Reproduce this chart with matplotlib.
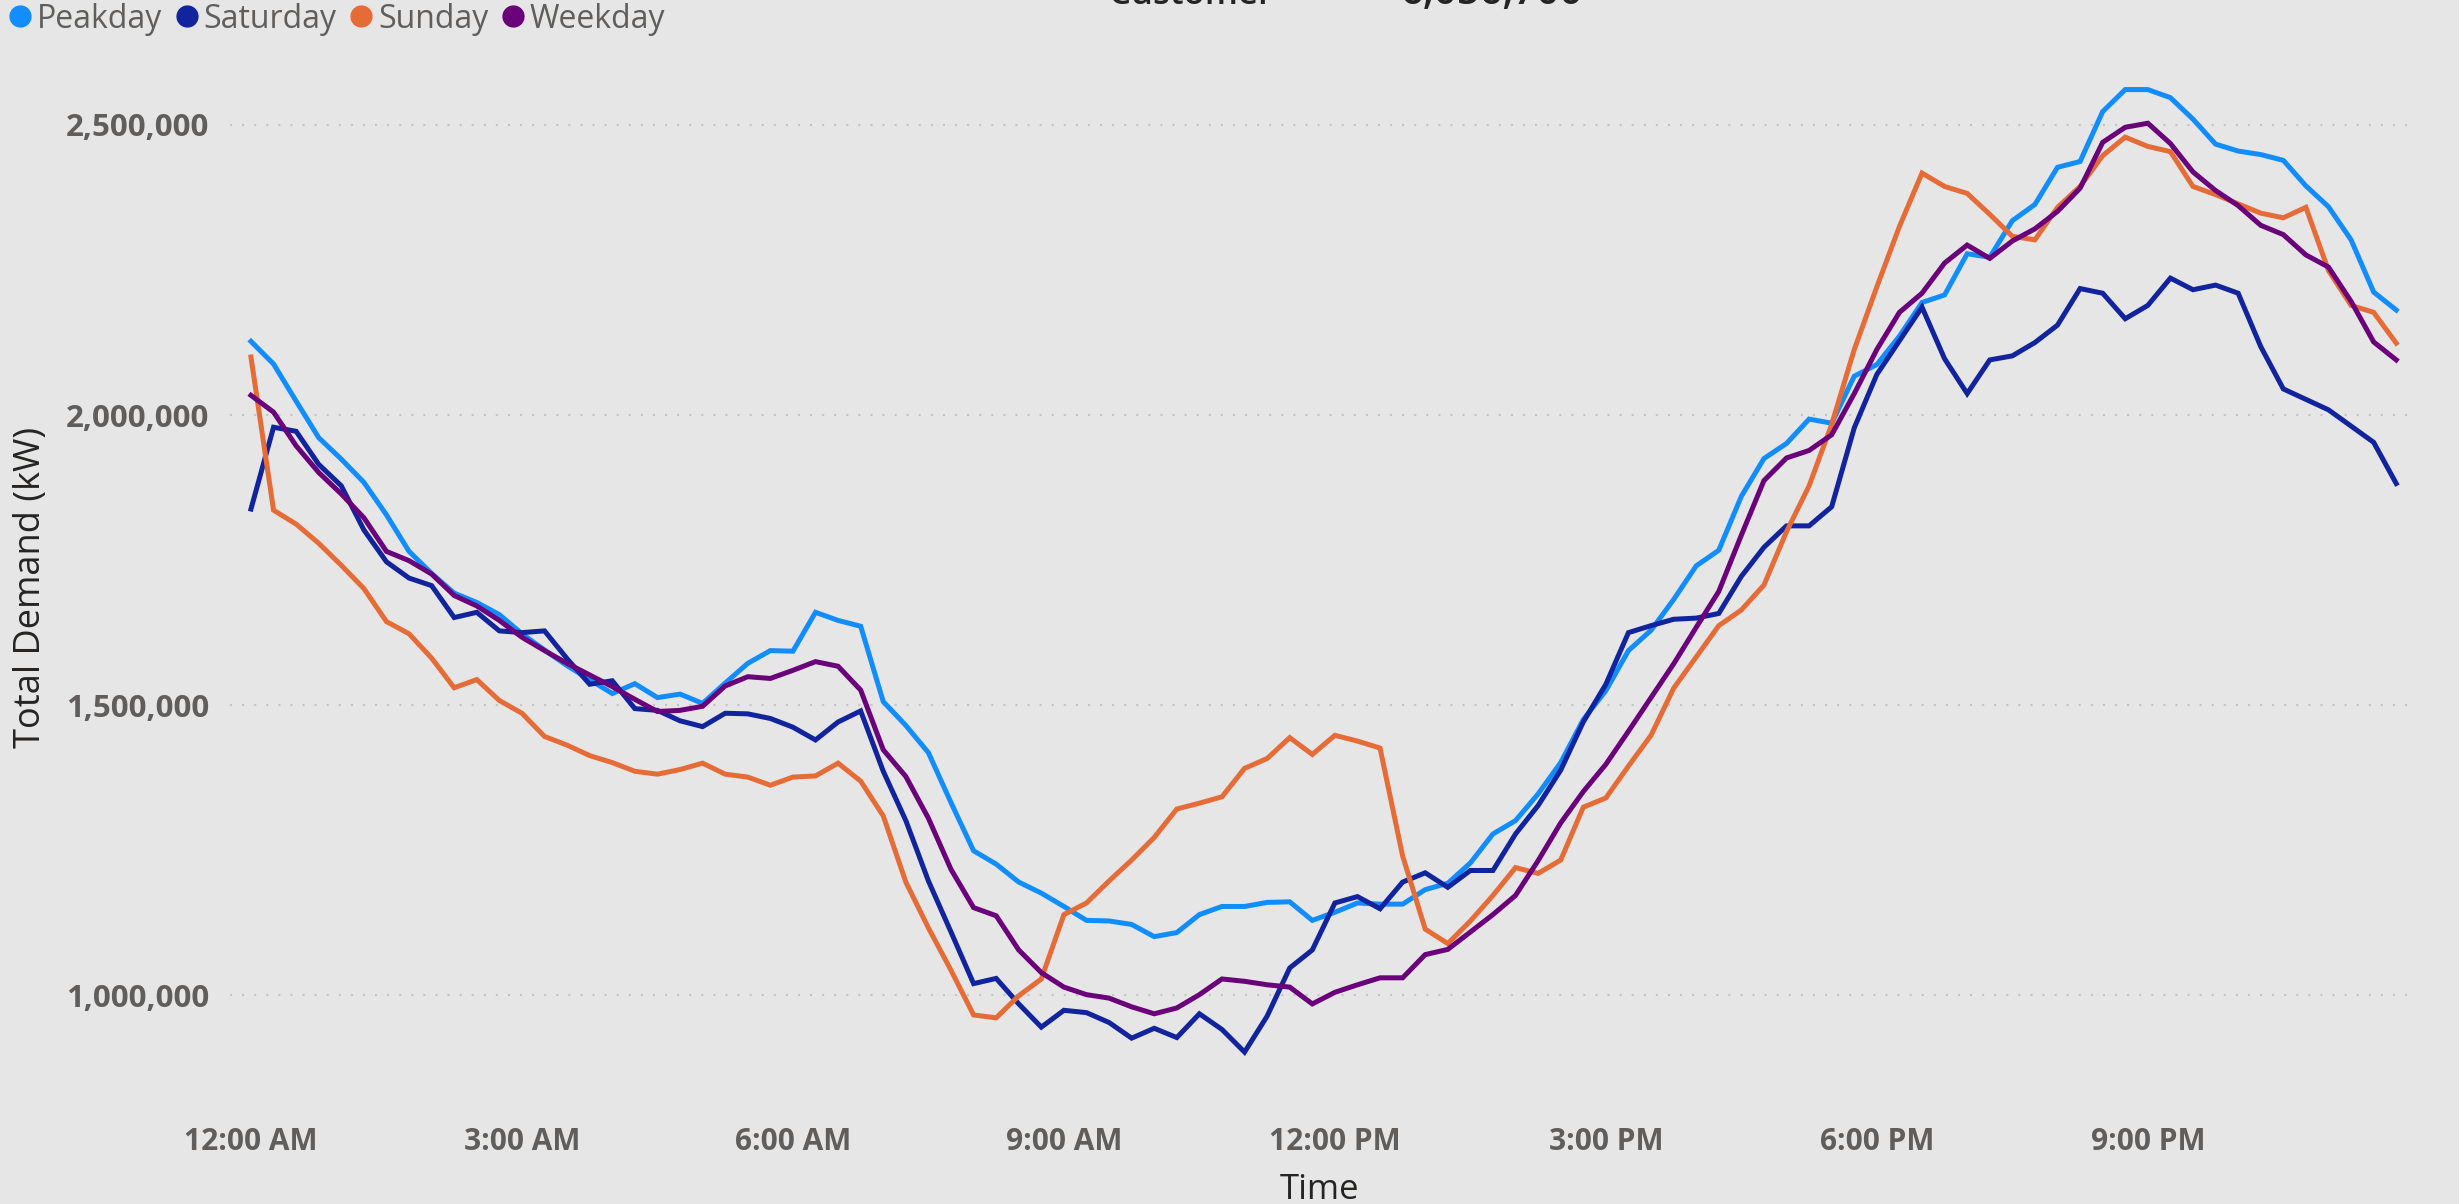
import numpy as np
import matplotlib.pyplot as plt
from matplotlib.lines import Line2D
from matplotlib.ticker import FuncFormatter

plt.rcParams['font.family'] = ['Open Sans', 'DejaVu Sans']

# 96 slots of 15 minutes, 12:00 AM .. 11:45 PM (values in thousands of kW)
slot_hours = np.arange(96) * 0.25

peakday_k = [
    2127, 2088, 2024, 1961, 1924, 1884, 1828, 1765, 1727, 1693, 1677, 1656,
    1623, 1595, 1568, 1544, 1520, 1537, 1513, 1519, 1503, 1538, 1572, 1594,
    1593, 1660, 1646, 1636, 1506, 1465, 1418, 1332, 1249, 1226, 1195, 1176,
    1153, 1129, 1128, 1122, 1101, 1108, 1139, 1153, 1153, 1160, 1161, 1129,
    1143, 1159, 1157, 1157, 1182, 1193, 1228, 1278, 1301, 1347, 1401, 1475,
    1525, 1594, 1629, 1682, 1740, 1767, 1860, 1925, 1951, 1993, 1986, 2067,
    2087, 2136, 2194, 2207, 2278, 2272, 2335, 2363, 2427, 2437, 2523, 2561,
    2561, 2547, 2510, 2467, 2455, 2449, 2439, 2395, 2359, 2302, 2212, 2181,
]
saturday_k = [
    1838, 1979, 1972, 1915, 1878, 1802, 1747, 1719, 1706, 1651, 1660, 1628,
    1625, 1628, 1580, 1536, 1542, 1494, 1491, 1473, 1463, 1486, 1485, 1477,
    1462, 1440, 1471, 1490, 1386, 1301, 1197, 1109, 1020, 1029, 985, 945,
    974, 970, 953, 926, 943, 927, 968, 941, 902, 964, 1047, 1078,
    1159, 1170, 1149, 1195, 1211, 1186, 1215, 1215, 1278, 1327, 1388, 1471,
    1536, 1625, 1637, 1648, 1650, 1658, 1722, 1772, 1809, 1809, 1842, 1978,
    2070, 2128, 2186, 2097, 2037, 2095, 2102, 2125, 2155, 2218, 2210, 2166,
    2189, 2236, 2216, 2224, 2210, 2118, 2045, 2027, 2009, 1981, 1953, 1882,
]
sunday_k = [
    2100, 1836, 1812, 1779, 1741, 1701, 1644, 1623, 1581, 1530, 1544, 1508,
    1486, 1446, 1431, 1413, 1401, 1386, 1381, 1389, 1400, 1381, 1376, 1362,
    1376, 1378, 1400, 1369, 1309, 1195, 1116, 1043, 966, 961, 999, 1028,
    1139, 1159, 1197, 1233, 1272, 1321, 1331, 1342, 1391, 1408, 1444, 1415,
    1448, 1438, 1426, 1240, 1114, 1089, 1128, 1172, 1220, 1210, 1233, 1324,
    1340, 1395, 1448, 1529, 1583, 1637, 1664, 1707, 1799, 1878, 1984, 2113,
    2221, 2325, 2417, 2394, 2382, 2346, 2308, 2302, 2358, 2394, 2447, 2479,
    2463, 2454, 2394, 2380, 2364, 2348, 2340, 2358, 2249, 2189, 2177, 2124,
]
weekday_k = [
    2034, 2005, 1947, 1901, 1864, 1823, 1765, 1749, 1726, 1689, 1671, 1646,
    1617, 1594, 1572, 1552, 1532, 1510, 1489, 1491, 1498, 1533, 1549, 1546,
    1560, 1575, 1567, 1526, 1423, 1377, 1305, 1217, 1151, 1137, 1078, 1039,
    1014, 1001, 995, 980, 968, 978, 1001, 1028, 1024, 1018, 1014, 985,
    1005, 1018, 1030, 1030, 1070, 1079, 1109, 1139, 1172, 1232, 1297, 1351,
    1398, 1455, 1513, 1571, 1634, 1696, 1793, 1887, 1926, 1939, 1966, 2037,
    2113, 2177, 2210, 2262, 2293, 2270, 2300, 2321, 2351, 2391, 2470, 2496,
    2503, 2468, 2419, 2387, 2361, 2327, 2311, 2276, 2255, 2196, 2126, 2095,
]

series_names = ['Peakday', 'Saturday', 'Sunday', 'Weekday']
series_values = [peakday_k, saturday_k, sunday_k, weekday_k]
series_colors = ['#118DFF', '#12239E', '#E66C37', '#6B007B']

tick_hours = [0, 3, 6, 9, 12, 15, 18, 21]
tick_labels = ['12:00 AM', '3:00 AM', '6:00 AM', '9:00 AM',
               '12:00 PM', '3:00 PM', '6:00 PM', '9:00 PM']
y_ticks = [1000000, 1500000, 2000000, 2500000]

bg = '#E6E6E6'
tick_color = '#605E5C'
title_color = '#252423'

fig = plt.figure(figsize=(24.59, 12.04), dpi=100, facecolor=bg)
ax = fig.add_axes([0.0935, 0.0963, 0.8874, 0.8481], facecolor=bg)

for name, vals, color in zip(series_names, series_values, series_colors):
    ax.plot(slot_hours, np.array(vals) * 1000, color=color, linewidth=3.6,
            solid_joinstyle='miter', label=name)

ax.set_xlim(-0.233, 23.925)
ax.set_ylim(840000, 2600000)

ax.set_xticks(tick_hours)
ax.set_xticklabels(tick_labels)
ax.set_yticks(y_ticks)
ax.yaxis.set_major_formatter(FuncFormatter(lambda v, p: f'{int(v):,}'))
ax.tick_params(axis='both', length=0, labelcolor=tick_color)
ax.tick_params(axis='x', pad=28, labelsize=21.5)
ax.tick_params(axis='y', pad=15, labelsize=22.5)
for lbl in ax.get_xticklabels() + ax.get_yticklabels():
    lbl.set_fontweight('bold')

# dotted horizontal grid only
ax.grid(axis='y', color='#C4C4C4', linestyle=(0, (1, 4.8)), linewidth=1.5)
ax.grid(axis='x', visible=False)
for s in ax.spines.values():
    s.set_visible(False)

ax.set_ylabel('Total Demand (kW)', fontsize=26, color=title_color, va='center')
ax.yaxis.set_label_coords(-0.091, 0.49)
ax.set_xlabel('Time', fontsize=25, color=title_color, va='center')
ax.xaxis.set_label_coords(0.4995, -0.1)

# legend with round markers, top-left
handles = [Line2D([], [], linestyle='none', marker='o', markersize=15,
                  markerfacecolor=c, markeredgecolor=c) for c in series_colors]
fig.legend(handles, series_names, loc='center left',
           bbox_to_anchor=(9.5 / 2459, 1 - 19 / 1204), ncol=4, frameon=False,
           fontsize=23, labelcolor=tick_color, borderpad=0, borderaxespad=0,
           handlelength=0.65, handletextpad=0.2, columnspacing=0.45)

# card title above, cut off by the top edge as in the source screenshot
fig.text(1109 / 2459, 1 - 4 / 1204, 'Customer', fontsize=25,
         fontweight='semibold', color=title_color, va='baseline')
fig.text(1400 / 2459, 1 - 4 / 1204, '6,056,700', fontsize=29,
         fontweight='semibold', color=title_color, va='baseline')

fig.savefig('out.png', dpi=100, facecolor=bg)
